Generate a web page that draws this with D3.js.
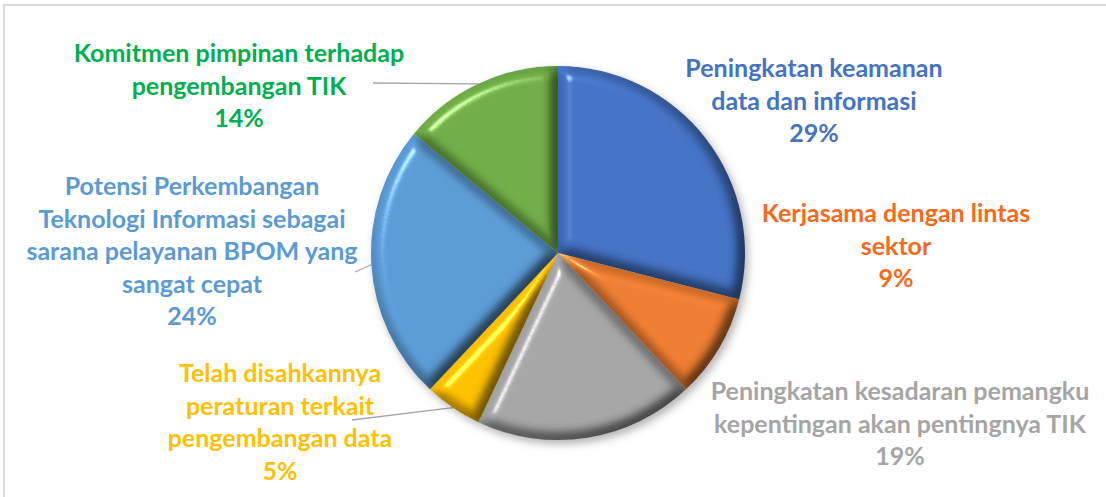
<!DOCTYPE html>
<html>
<head>
<meta charset="utf-8">
<script src="https://cdn.jsdelivr.net/npm/d3@7"></script>
<style>
  body { margin: 0; background: #fff; }
  svg { display: block; }
</style>
</head>
<body>
<div id="chart"></div>
<script>
// data
const categories = [
  "Peningkatan keamanan data dan informasi",
  "Kerjasama dengan lintas sektor",
  "Peningkatan kesadaran pemangku kepentingan akan pentingnya TIK",
  "Telah disahkannya peraturan terkait pengembangan data",
  "Potensi Perkembangan Teknologi Informasi sebagai sarana pelayanan BPOM yang sangat cepat",
  "Komitmen pimpinan terhadap pengembangan TIK",
];
const values = [29, 9, 19, 5, 24, 14];
// label lines as they wrap in the picture
const labelLines = [
  ["Peningkatan keamanan", "data dan informasi"],
  ["Kerjasama dengan lintas", "sektor"],
  ["Peningkatan kesadaran pemangku", "kepentingan akan pentingnya TIK"],
  ["Telah disahkannya", "peraturan terkait", "pengembangan data"],
  ["Potensi Perkembangan", "Teknologi Informasi sebagai", "sarana pelayanan BPOM yang", "sangat cepat"],
  ["Komitmen pimpinan terhadap", "pengembangan TIK"],
];

const sliceColors = ["#4472c4", "#ed7d31", "#a5a5a5", "#ffc000", "#5b9bd5", "#70ad47"];
const textColors = ["#4472c4", "#f8691c", "#a5a5a5", "#ffc000", "#5b9bd5", "#00b050"];
// label anchor (center x, first baseline) and leader lines
const labelPos = [[814, 77], [896, 222], [900, 400], [280, 382], [192, 195], [239, 62]];
const leaderEnds = [null, null, null, [352, 420], [355, 272], [373, 83]];

var w = 1106;
var h = 497;
var cx = 558;
var cy = 253;
var r = 187;
var lineH = 32.5;

const svg = d3
  .select("#chart")
  .append("svg")
  .attr("width", w)
  .attr("height", h);

// chart frame
svg
  .append("rect")
  .attr("x", 4)
  .attr("y", 5)
  .attr("width", w + 10)
  .attr("height", h + 10)
  .attr("fill", "none")
  .attr("stroke", "#d9d9d9")
  .attr("stroke-width", 2);

const defs = svg.append("defs");

// bevel look of the slices
const bevel = defs
  .append("filter")
  .attr("id", "bevel")
  .attr("color-interpolation-filters", "sRGB")
  .attr("x", "-10%")
  .attr("y", "-10%")
  .attr("width", "120%")
  .attr("height", "120%");
bevel.append("feGaussianBlur").attr("in", "SourceAlpha").attr("stdDeviation", 6.5).attr("result", "blur");
bevel
  .append("feDiffuseLighting")
  .attr("in", "blur")
  .attr("surfaceScale", 13)
  .attr("diffuseConstant", 1.13)
  .attr("lighting-color", "#fff")
  .attr("result", "diff")
  .append("feDistantLight")
  .attr("azimuth", 225)
  .attr("elevation", 62);
// keep part of the base colour so the dark edges stay coloured
bevel
  .append("feComposite")
  .attr("in", "SourceGraphic")
  .attr("in2", "diff")
  .attr("operator", "arithmetic")
  .attr("k1", 0.6)
  .attr("k2", 0.4)
  .attr("result", "lit");
bevel
  .append("feSpecularLighting")
  .attr("in", "blur")
  .attr("surfaceScale", 13)
  .attr("specularConstant", 0.45)
  .attr("specularExponent", 40)
  .attr("lighting-color", "#fff")
  .attr("result", "spec")
  .append("feDistantLight")
  .attr("azimuth", 225)
  .attr("elevation", 38);
bevel
  .append("feComposite")
  .attr("in", "spec")
  .attr("in2", "SourceAlpha")
  .attr("operator", "in")
  .attr("result", "specIn");
bevel
  .append("feComposite")
  .attr("in", "lit")
  .attr("in2", "specIn")
  .attr("operator", "arithmetic")
  .attr("k2", 1)
  .attr("k3", 1);

// drop shadow under the pie
const shadow = defs
  .append("filter")
  .attr("id", "shadow")
  .attr("color-interpolation-filters", "sRGB")
  .attr("x", "-10%")
  .attr("y", "-10%")
  .attr("width", "125%")
  .attr("height", "125%");
shadow.append("feGaussianBlur").attr("in", "SourceAlpha").attr("stdDeviation", 4).attr("result", "sb");
shadow.append("feOffset").attr("in", "sb").attr("dx", 3).attr("dy", 4).attr("result", "so");
shadow.append("feFlood").attr("flood-color", "#000").attr("flood-opacity", 0.3).attr("result", "sc");
shadow.append("feComposite").attr("in", "sc").attr("in2", "so").attr("operator", "in").attr("result", "sh");
const sm = shadow.append("feMerge");
sm.append("feMergeNode").attr("in", "sh");
sm.append("feMergeNode").attr("in", "SourceGraphic");

// pie layout, clockwise from 12 o'clock
const pie = d3.pie().sort(null).value((d) => d);
const arcs = pie(values);
const arc = d3.arc().innerRadius(0).outerRadius(r);

// leader lines
arcs.forEach(function (d, i) {
  if (!leaderEnds[i]) return;
  const mid = (d.startAngle + d.endAngle) / 2;
  svg
    .append("line")
    .attr("x1", leaderEnds[i][0])
    .attr("y1", leaderEnds[i][1])
    .attr("x2", cx + Math.sin(mid) * r)
    .attr("y2", cy - Math.cos(mid) * r)
    .attr("stroke", "#a6a6a6")
    .attr("stroke-width", 1.3);
});

const g = svg
  .append("g")
  .attr("transform", `translate(${cx},${cy})`)
  .attr("filter", "url(#shadow)");

g.selectAll("path")
  .data(arcs)
  .enter()
  .append("path")
  .attr("d", arc)
  .attr("fill", (d, i) => sliceColors[i])
  .attr("filter", "url(#bevel)");

// labels
const labels = svg
  .selectAll("text.label")
  .data(arcs)
  .enter()
  .append("text")
  .attr("class", "label")
  .attr("text-anchor", "middle")
  .attr("font-family", "Lato, 'Open Sans', sans-serif")
  .attr("font-weight", "bold")
  .attr("font-size", 25)
  .attr("fill", (d, i) => textColors[i]);

labels.each(function (d, i) {
  const t = d3.select(this);
  const lines = labelLines[i].concat([Math.round(d.value) + "%"]);
  lines.forEach(function (s, k) {
    t.append("tspan")
      .attr("x", labelPos[i][0])
      .attr("y", labelPos[i][1] + k * lineH)
      .text(s);
  });
  t.append("title").text(categories[i]);
});
</script>
</body>
</html>
